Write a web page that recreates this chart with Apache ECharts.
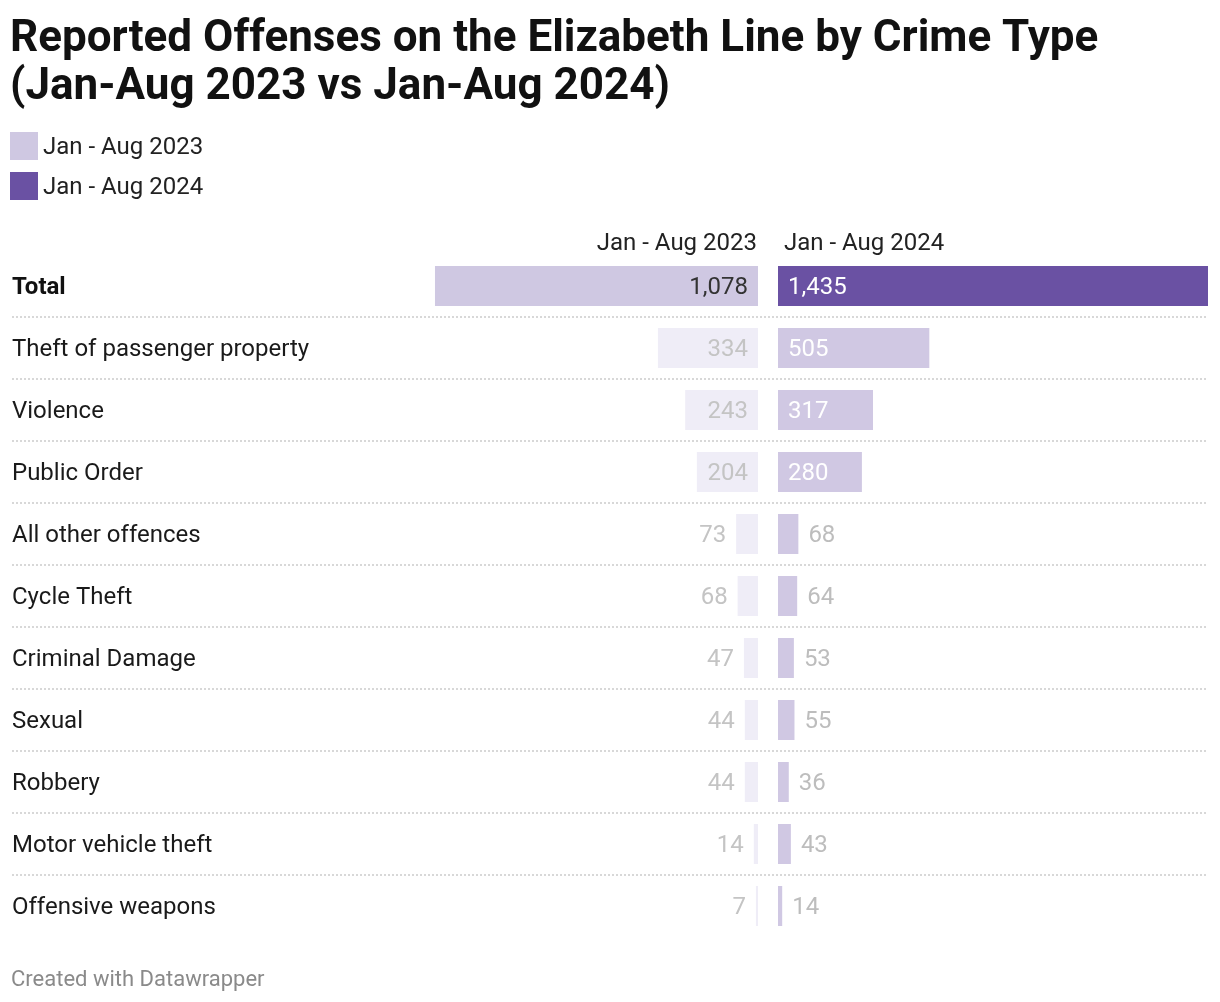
<!DOCTYPE html>
<html>
<head>
<meta charset="utf-8">
<script src="https://cdn.jsdelivr.net/npm/echarts@6/dist/echarts.min.js"></script>
<style>
html,body{margin:0;padding:0;background:#fff;}
#chart{width:1220px;height:1002px;}
</style>
</head>
<body>
<div id="chart"></div>
<script>
const categories = ['Total','Theft of passenger property','Violence','Public Order','All other offences','Cycle Theft','Criminal Damage','Sexual','Robbery','Motor vehicle theft','Offensive weapons'];
const values2023 = [1078,334,243,204,73,68,47,44,44,14,7];
const values2024 = [1435,505,317,280,68,64,53,55,36,43,14];
const seriesNames = ['Jan - Aug 2023','Jan - Aug 2024'];
const insideCount = 4; // rows whose value labels sit inside the bar

const FONT = 'Roboto';
const FS = 24;
const scaleMax = 1435;
const fmt = v => v.toLocaleString('en-US');

const data2023 = values2023.map((v,i) => ({
  value: v,
  itemStyle: {color: i === 0 ? '#cfc8e2' : '#efedf7'},
  label: i < insideCount
    ? {position: 'insideRight', distance: 10, color: i === 0 ? '#333333' : '#c4c4c4'}
    : {position: 'left', distance: 10, color: '#c4c4c4'}
}));
const data2024 = values2024.map((v,i) => ({
  value: v,
  itemStyle: {color: i === 0 ? '#6a51a3' : '#d0c8e3'},
  label: i < insideCount
    ? {position: 'insideLeft', distance: 10, color: '#ffffff'}
    : {position: 'right', distance: 10, color: '#bdbdbd'}
}));

const chart = echarts.init(document.getElementById('chart'));
const gridTop = 255, gridH = 682;
chart.setOption({
  animation: false,
  textStyle: {fontFamily: FONT},
  title: [
    {text: 'Reported Offenses on the Elizabeth Line by Crime Type\n(Jan-Aug 2023 vs Jan-Aug 2024)', left: 10, top: 16, padding: 0,
     textStyle: {fontFamily: FONT, fontSize: 44, fontWeight: 'bold', color: '#111111', lineHeight: 48}},
    {text: seriesNames[0], right: 1220 - 757, top: 232, padding: 0, textStyle: {fontFamily: FONT, fontSize: FS, fontWeight: 'normal', color: '#222'}},
    {text: seriesNames[1], left: 784, top: 232, padding: 0, textStyle: {fontFamily: FONT, fontSize: FS, fontWeight: 'normal', color: '#222'}},
    {text: 'Created with Datawrapper', left: 11, top: 969, padding: 0, textStyle: {fontFamily: FONT, fontSize: 22, fontWeight: 'normal', color: '#8a8a8a'}}
  ],
  legend: {
    orient: 'vertical', left: 10, top: 132, padding: 0, itemWidth: 28, itemHeight: 28, itemGap: 12,
    icon: 'rect', data: seriesNames,
    formatter: name => '{a|' + name + '}',
    textStyle: {fontFamily: FONT, fontSize: FS, color: '#222',
      rich: {a: {fontFamily: FONT, fontSize: FS, color: '#222', padding: [4, 0, 0, 0]}}}
  },
  grid: [
    {left: 758 - 430, width: 430, top: gridTop, height: gridH},
    {left: 778, width: 430, top: gridTop, height: gridH},
    {left: 12, right: 12, top: gridTop, height: gridH}
  ],
  xAxis: [
    {gridIndex: 0, type: 'value', min: 0, max: scaleMax, inverse: true, show: false},
    {gridIndex: 1, type: 'value', min: 0, max: scaleMax, show: false},
    {gridIndex: 2, type: 'value', min: 0, max: 1, show: false}
  ],
  yAxis: [
    {gridIndex: 0, type: 'category', data: categories, inverse: true, show: false},
    {gridIndex: 1, type: 'category', data: categories, inverse: true, show: false},
    {gridIndex: 2, type: 'category', data: categories, inverse: true,
     axisLine: {show: false}, axisTick: {show: false},
     axisLabel: {inside: true, margin: 0, align: 'left',
       formatter: v => v === 'Total' ? '{b|' + v + '}' : '{n|' + v + '}',
       rich: {
         b: {fontFamily: FONT, fontSize: FS, fontWeight: 'bold', color: '#111111', padding: [4, 0, 0, 0]},
         n: {fontFamily: FONT, fontSize: FS, color: '#1a1a1a', padding: [4, 0, 0, 0]}
       }},
     splitLine: {show: true, showMinLine: false, showMaxLine: false,
       lineStyle: {color: '#cccccc', width: 1.5, type: [2, 2]}}
    }
  ],
  series: [
    {name: seriesNames[0], type: 'bar', xAxisIndex: 0, yAxisIndex: 0, barWidth: 40,
     itemStyle: {color: '#cfc8e2'}, data: data2023,
     label: {show: true, fontFamily: FONT, fontSize: FS, offset: [0, 2], formatter: p => fmt(p.value)}},
    {name: seriesNames[1], type: 'bar', xAxisIndex: 1, yAxisIndex: 1, barWidth: 40,
     itemStyle: {color: '#6a51a3'}, data: data2024,
     label: {show: true, fontFamily: FONT, fontSize: FS, offset: [0, 2], formatter: p => fmt(p.value)}},
    {type: 'bar', xAxisIndex: 2, yAxisIndex: 2, data: [], silent: true}
  ]
});
</script>
</body>
</html>
